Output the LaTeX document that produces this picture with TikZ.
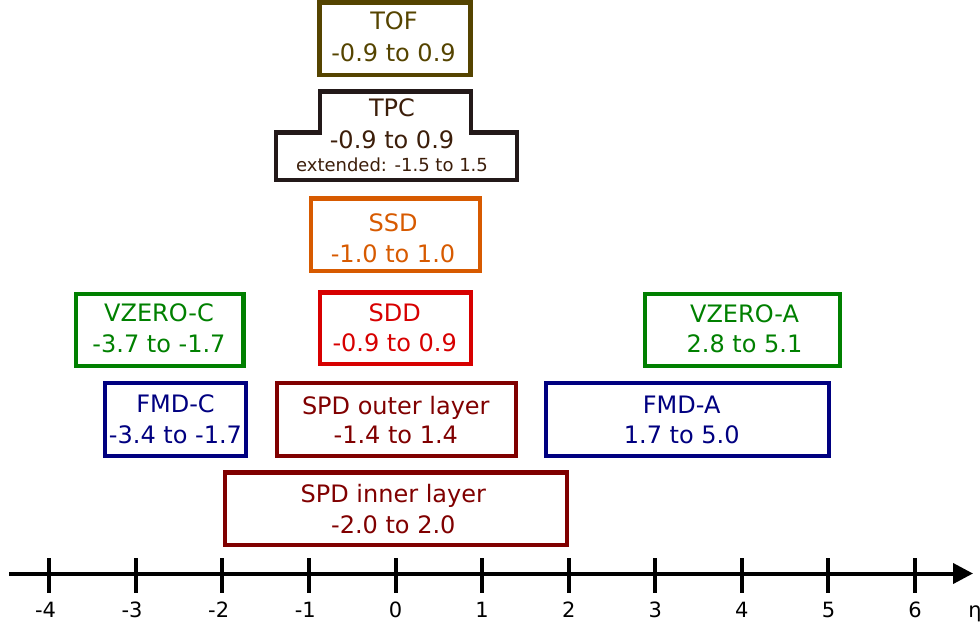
\documentclass[tikz,border=0pt]{standalone}
\usepackage{fontspec}
\setmainfont{DejaVu Sans}
\usetikzlibrary{arrows.meta}
\definecolor{tofc}{RGB}{85,68,0}
\definecolor{tpcline}{RGB}{35,25,25}
\definecolor{tpctext}{RGB}{60,30,10}
\definecolor{ssdc}{RGB}{215,90,0}
\definecolor{sddc}{RGB}{215,0,0}
\definecolor{vzc}{RGB}{0,128,0}
\definecolor{fmdc}{RGB}{0,0,128}
\definecolor{spdc}{RGB}{128,0,0}
\begin{document}
\begin{tikzpicture}[x=1pt,y=-1pt,
  frame/.style={draw=#1, line width=4.5pt, rectangle, inner sep=0pt, outer sep=0pt},
  lbl/.style={text=#1, font=\fontsize{24}{29}\selectfont, anchor=base, inner sep=0pt},
  smalllbl/.style={text=#1, font=\fontsize{18}{22}\selectfont, anchor=base, inner sep=0pt},
  axisline/.style={line width=4pt, black},
  ticklbl/.style={font=\fontsize{21}{25}\selectfont, anchor=base, inner sep=0pt}]
\useasboundingbox (0,0) rectangle (980,627);

% ---- TOF ----
\node[frame=tofc, minimum width=151pt, minimum height=72.5pt] (tof) at (395,38.75) {};
\node[lbl=tofc] (tof-1) at (394,29.5) {TOF};
\node[lbl=tofc] (tof-2) at (393.5,61) {-0.9 to 0.9};

% ---- TPC (stepped outline) ----
\draw[tpcline, line width=4.5pt, line join=miter]
  (319.8,91.7) -- (470.8,91.7) -- (470.8,132.5) -- (517,132.5) -- (517,180)
  -- (275.8,180) -- (275.8,132.5) -- (319.8,132.5) -- cycle;
\node[lbl=tpctext] (tpc-1) at (392,116.7) {TPC};
\node[lbl=tpctext] (tpc-2) at (392,148.3) {-0.9 to 0.9};
\node[smalllbl=tpctext] (tpc-3) at (392,171) {extended: -1.5 to 1.5};

% ---- SSD ----
\node[frame=ssdc, minimum width=169.4pt, minimum height=72.3pt] (ssd) at (395.5,234.65) {};
\node[lbl=ssdc] (ssd-1) at (393,231.7) {SSD};
\node[lbl=ssdc] (ssd-2) at (393,262.3) {-1.0 to 1.0};

% ---- SDD ----
\node[frame=sddc, minimum width=151pt, minimum height=71.7pt] (sdd) at (395.3,328.35) {};
\node[lbl=sddc] (sdd-1) at (394.7,321) {SDD};
\node[lbl=sddc] (sdd-2) at (394.7,351) {-0.9 to 0.9};

% ---- VZERO ----
\node[frame=vzc, minimum width=167.7pt, minimum height=72pt] (vzc) at (159.65,330) {};
\node[lbl=vzc] (vzc-1) at (159,321.7) {VZERO-C};
\node[lbl=vzc] (vzc-2) at (159,352.7) {-3.7 to -1.7};
\node[frame=vzc, minimum width=195pt, minimum height=72pt] (vza) at (742.5,330) {};
\node[lbl=vzc] (vza-1) at (744.5,322.3) {VZERO-A};
\node[lbl=vzc] (vza-2) at (744.5,352.3) {2.8 to 5.1};

% ---- FMD and SPD outer layer ----
\node[frame=fmdc, minimum width=141pt, minimum height=73pt] (fmdc) at (175.3,419.5) {};
\node[lbl=fmdc] (fmdc-1) at (175.5,412.7) {FMD-C};
\node[lbl=fmdc] (fmdc-2) at (175.5,443.3) {-3.4 to -1.7};
\node[frame=spdc, minimum width=239pt, minimum height=73pt] (spdo) at (396.3,419.5) {};
\node[lbl=spdc] (spdo-1) at (395.8,414.3) {SPD outer layer};
\node[lbl=spdc] (spdo-2) at (395.8,443.3) {-1.4 to 1.4};
\node[frame=fmdc, minimum width=283.2pt, minimum height=73pt] (fmda) at (687.4,419.5) {};
\node[lbl=fmdc] (fmda-1) at (681.7,413.3) {FMD-A};
\node[lbl=fmdc] (fmda-2) at (681.7,443.3) {1.7 to 5.0};

% ---- SPD inner layer ----
\node[frame=spdc, minimum width=341.6pt, minimum height=72.7pt] (spdi) at (396,508.85) {};
\node[lbl=spdc] (spdi-1) at (393.3,502.7) {SPD inner layer};
\node[lbl=spdc] (spdi-2) at (393.3,533.3) {-2.0 to 2.0};

% ---- eta axis ----
\coordinate (axstart) at (9.3,573.5);
\coordinate (axend) at (973,573.5);
\draw[axisline, -{Triangle[length=20pt,width=20pt]}] (axstart) -- (axend);
\foreach \v in {-4,...,6} {
  \pgfmathsetmacro{\xx}{395.6+86.57*\v}
  \draw[axisline] (\xx,558) -- (\xx,593);
}
\foreach \v in {1,...,4} {
  \pgfmathsetmacro{\xx}{395.6-86.57*\v}
  \node[ticklbl] (tm\v) at (\xx,617) {\llap{-}\v};
}
\foreach \v in {0,...,6} {
  \pgfmathsetmacro{\xx}{395.6+86.57*\v}
  \node[ticklbl] (tp\v) at (\xx,617) {\v};
}
\node[ticklbl] (eta) at (975,617) {η};
\end{tikzpicture}
\end{document}
